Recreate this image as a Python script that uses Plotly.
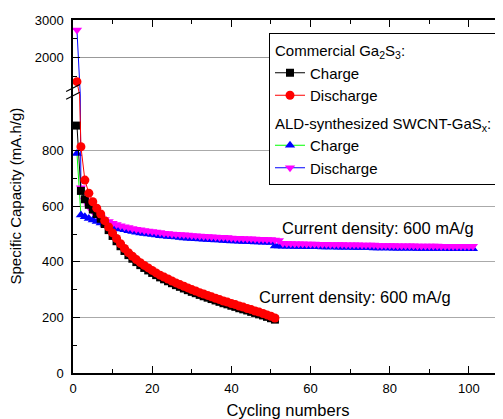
import plotly.graph_objects as go

# ---------------- data ----------------
cycles_com = list(range(1, 52))
cycles_ald = list(range(1, 102))

com_charge = [890, 655, 625, 605, 588, 572, 555, 536, 514, 493,
              474, 456, 439, 424, 411, 399, 388, 378, 369, 360,
              352, 344, 337, 330, 323, 316, 310, 304, 298, 292,
              287, 281, 276, 271, 266, 261, 256, 251, 247, 242,
              238, 233, 229, 225, 220, 216, 211, 207, 202, 197,
              192]
com_discharge = [1355, 814, 694, 647, 616, 593, 572, 548, 525, 504,
                 484, 465, 448, 433, 420, 408, 397, 387, 378, 369,
                 360, 352, 345, 338, 331, 324, 318, 312, 306, 300,
                 295, 289, 284, 279, 274, 269, 264, 259, 255, 250,
                 246, 241, 237, 232, 228, 223, 219, 214, 209, 204,
                 198]
ald_charge = [790, 568, 562, 556, 550, 545, 540, 535, 530, 526,
              522, 518, 515, 512, 509, 506, 504, 502, 500, 498,
              496, 494, 493, 491, 490, 489, 487, 486, 485, 484,
              483, 482, 481, 480, 479, 478, 478, 477, 476, 475,
              475, 474, 473, 473, 472, 471, 471, 470, 470, 469,
              457, 457, 456, 456, 456, 455, 455, 455, 454, 454,
              454, 454, 453, 453, 453, 453, 452, 452, 452, 452,
              451, 451, 451, 451, 451, 450, 450, 450, 450, 450,
              449, 449, 449, 449, 449, 449, 448, 448, 448, 448,
              448, 448, 448, 448, 447, 447, 447, 447, 447, 447,
              447]
ald_discharge = [2733, 666, 622, 598, 582, 570, 560, 552, 545, 539,
                 534, 530, 526, 523, 520, 517, 515, 513, 511, 509,
                 507, 505, 503, 502, 500, 499, 498, 497, 496, 495,
                 494, 493, 492, 491, 490, 489, 488, 488, 487, 486,
                 485, 485, 484, 483, 483, 482, 481, 481, 480, 480,
                 478, 477, 467, 466, 466, 465, 465, 465, 464, 464,
                 464, 463, 463, 463, 462, 462, 462, 462, 461, 461,
                 461, 461, 460, 460, 460, 460, 459, 459, 459, 459,
                 459, 458, 458, 458, 458, 458, 457, 457, 457, 457,
                 457, 457, 456, 456, 456, 456, 456, 456, 456, 456,
                 456]

x_tick_vals = [0, 20, 40, 60, 80, 100]
y_low_ticks = [0, 200, 400, 600, 800]
y_high_ticks = [2000, 3000]
group_titles = ["Commercial Ga<sub>2</sub>S<sub>3</sub>:",
                "ALD-synthesized SWCNT-GaS<sub>x</sub>:"]
annotation_texts = ["Current density: 600 mA/g", "Current density: 600 mA/g"]

FONT = "Liberation Sans, Arial, sans-serif"

series = [
    dict(name="Charge", x=cycles_com, y=com_charge, lc="#000000", mc="#000000",
         sym="square", size=8, group="com", title=group_titles[0], rank=1),
    dict(name="Discharge", x=cycles_com, y=com_discharge, lc="#ff0000", mc="#ff0000",
         sym="circle", size=9, group="com", title=None, rank=2),
    dict(name="Charge", x=cycles_ald, y=ald_charge, lc="#00ff00", mc="#0000ff",
         sym="triangle-up", size=9, group="ald", title=group_titles[1], rank=3),
    dict(name="Discharge", x=cycles_ald, y=ald_discharge, lc="#0000ff", mc="#ff00ff",
         sym="triangle-down", size=9, group="ald", title=None, rank=4),
]
draw_order = [2, 3, 0, 1]

fig = go.Figure()
for panel in ("low", "high"):
    for i in draw_order:
        s = series[i]
        kw = {}
        if panel == "low" and s["title"]:
            kw["legendgrouptitle"] = dict(text=s["title"], font=dict(size=15, family=FONT, color="black"))
        fig.add_trace(go.Scatter(
            x=s["x"], y=s["y"], name=s["name"], mode="lines+markers",
            line=dict(color=s["lc"], width=1),
            marker=dict(symbol=s["sym"], size=s["size"], color=s["mc"], line=dict(width=0)),
            legendgroup=s["group"], legendrank=s["rank"],
            showlegend=(panel == "low"),
            xaxis="x" if panel == "low" else "x2",
            yaxis="y" if panel == "low" else "y2",
            **kw))

split = 278 / 353
axis_common = dict(showline=True, linecolor="black", linewidth=1.5, ticks="inside",
                   tickcolor="black", ticklen=7, tickwidth=1.2,
                   tickfont=dict(size=13, family=FONT, color="black"), zeroline=False)

# The page body adds an 8px offset; the figure is sized so the plot lands where the reference has it.
fig.update_layout(
    width=495, height=411,
    margin=dict(l=65, r=0, t=12, b=46),
    paper_bgcolor="white", plot_bgcolor="white",
    font=dict(family=FONT, size=13, color="black"),
    xaxis=dict(domain=[0, 1], range=[0, 108.6], anchor="y", tickvals=x_tick_vals,
               showgrid=False, minor=dict(dtick=10, tick0=0, ticks="inside", ticklen=4, tickcolor="black"),
               title=dict(text="Cycling numbers", font=dict(size=16.5, family=FONT), standoff=17),
               ticklabelstandoff=3, automargin=False,
               **axis_common),
    xaxis2=dict(domain=[0, 1], range=[0, 108.6], anchor="y2", matches="x", side="top",
                showticklabels=False, showgrid=False, tickvals=x_tick_vals,
                minor=dict(dtick=10, tick0=0, ticks="inside", ticklen=4, tickcolor="black"),
                automargin=False,
                **axis_common),
    yaxis=dict(domain=[0, split], range=[0, 1000], anchor="x", tickvals=y_low_ticks,
               mirror="ticks", showgrid=True, gridcolor="#aaaaaa", gridwidth=1,
               minor=dict(dtick=100, tick0=0, ticks="inside", ticklen=4, tickcolor="black"),
               ticklabelstandoff=5, automargin=False,
               **axis_common),
    yaxis2=dict(domain=[split, 1], range=[1000, 3000], anchor="x2", tickvals=y_high_ticks,
                mirror="ticks", showgrid=True, gridcolor="#999999", gridwidth=1,
                minor=dict(dtick=500, tick0=0, ticks="inside", ticklen=4, tickcolor="black"),
                ticklabelstandoff=5, automargin=False,
                **axis_common),
    legend=dict(x=(269 - 73) / 430, y=(373 - 33) / 353, xanchor="left", yanchor="top",
                bgcolor="white", bordercolor="black", borderwidth=1,
                font=dict(size=15, family=FONT, color="black"),
                traceorder="grouped", tracegroupgap=5, itemwidth=30),
    showlegend=True,
)

# y-axis title spanning both panels
fig.add_annotation(text="Specific Capacity (mA.h/g)", textangle=-90, xref="paper", yref="paper",
                   x=(15 - 73) / 430, y=0.5, xanchor="center", yanchor="middle",
                   showarrow=False, font=dict(size=15, family=FONT, color="black"))
# current density labels (data coordinates on the lower panel)
fig.add_annotation(text=annotation_texts[0], x=77.0, y=522, xref="x", yref="y",
                   showarrow=False, font=dict(size=16.5, family=FONT, color="black"))
fig.add_annotation(text=annotation_texts[1], x=71.2, y=272, xref="x", yref="y",
                   showarrow=False, font=dict(size=16.5, family=FONT, color="black"))

# axis break marks
for dy in (0.0, 0.022):
    fig.add_shape(type="line", xref="paper", yref="paper",
                  x0=-0.016, y0=split - 0.012 + dy, x1=0.016, y1=split + 0.008 + dy,
                  line=dict(color="black", width=1.2))

fig.write_html("out.html")
